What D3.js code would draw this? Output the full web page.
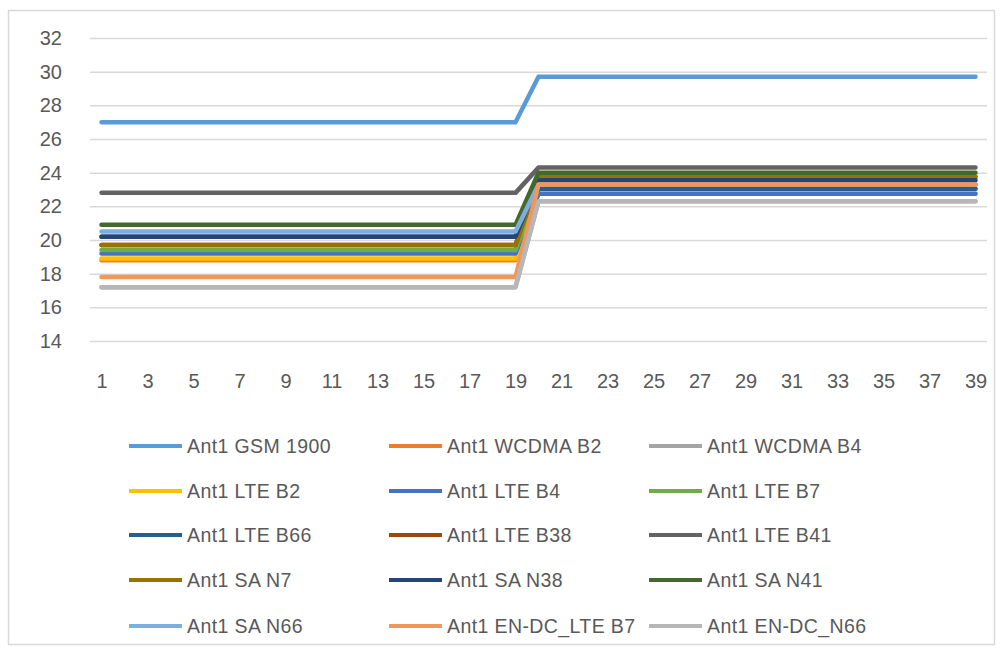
<!DOCTYPE html>
<html>
<head>
<meta charset="utf-8">
<script src="https://cdn.jsdelivr.net/npm/d3@7"></script>
<style>
  html, body { margin: 0; padding: 0; background: #fff; }
  svg { display: block; }
  text { font-family: "Liberation Sans", Arial, sans-serif; fill: #595959; }
</style>
</head>
<body>
<svg id="chart" width="1002" height="653"></svg>
<script>
// ---- data ----
const categories = d3.range(1, 40);               // 1..39
const yTicks = [14, 16, 18, 20, 22, 24, 26, 28, 30, 32];
const xTickLabels = categories.filter(c => c % 2 === 1);

const seriesNames = [
  "Ant1 GSM 1900", "Ant1 WCDMA B2", "Ant1 WCDMA B4",
  "Ant1 LTE B2", "Ant1 LTE B4", "Ant1 LTE B7",
  "Ant1 LTE B66", "Ant1 LTE B38", "Ant1 LTE B41",
  "Ant1 SA N7", "Ant1 SA N38", "Ant1 SA N41",
  "Ant1 SA N66", "Ant1 EN-DC_LTE B7", "Ant1 EN-DC_N66"
];
const seriesColors = [
  "#5B9BD5", "#ED7D31", "#A5A5A5",
  "#FFC000", "#4472C4", "#70AD47",
  "#255E91", "#9E480E", "#636363",
  "#997300", "#264478", "#43682B",
  "#7CAFDD", "#F1975A", "#B7B7B7"
];
// level for points 1..19, level for points 20..39
const levelBefore = [27.0, 18.8, 17.2, 18.9, 19.2, 19.4, 20.2, 19.7, 22.8, 19.7, 20.2, 20.9, 20.5, 17.8, 17.2];
const levelAfter  = [29.7, 23.3, 22.3, 22.75, 22.75, 23.05, 23.05, 23.75, 24.3, 23.75, 23.55, 24.0, 23.3, 23.3, 22.3];
const series = seriesNames.map((name, i) => ({
  name, color: seriesColors[i],
  values: categories.map(c => ({ x: c, y: c <= 19 ? levelBefore[i] : levelAfter[i] }))
}));

// ---- layout ----
const svg = d3.select("#chart");
svg.append("rect").attr("x", 8.5).attr("y", 10.5).attr("width", 986).attr("height", 634)
  .attr("fill", "#fff").attr("stroke", "#d9d9d9").attr("stroke-width", 1.5);

const plotLeft = 90, plotRight = 987, plotTop = 38, plotBottom = 341;
const x = d3.scalePoint().domain(categories).range([plotLeft, plotRight]).padding(0.5);
const y = d3.scaleLinear().domain([14, 32]).range([plotBottom, plotTop]);

// gridlines
const yAxis = d3.axisLeft(y).tickValues(yTicks).tickSize(-(plotRight - plotLeft)).tickPadding(28);
const gy = svg.append("g").attr("transform", `translate(${plotLeft},0)`).call(yAxis);
gy.select(".domain").remove();
gy.selectAll(".tick line").attr("stroke", "#d9d9d9").attr("stroke-width", 1.5);
gy.selectAll(".tick text").attr("font-size", 20).attr("fill", "#595959")
  .style("font-family", "'Liberation Sans', Arial, sans-serif");

// x axis labels
const xAxis = d3.axisBottom(x).tickValues(xTickLabels).tickSize(0).tickPadding(33);
const gx = svg.append("g").attr("transform", `translate(0,${plotBottom})`).call(xAxis);
gx.select(".domain").remove();
gx.selectAll(".tick text").attr("font-size", 20).attr("fill", "#595959")
  .style("font-family", "'Liberation Sans', Arial, sans-serif");

// lines
const line = d3.line().x(d => x(d.x)).y(d => y(d.y));
svg.append("g").selectAll("path").data(series).join("path")
  .attr("d", d => line(d.values))
  .attr("fill", "none")
  .attr("stroke", d => d.color)
  .attr("stroke-width", 4.5)
  .attr("stroke-linejoin", "round")
  .attr("stroke-linecap", "round");

// legend
const legCols = [129, 389, 649];
const legRows = [446, 491, 535, 580, 626];
const leg = svg.append("g").selectAll("g").data(series).join("g")
  .attr("transform", (d, i) => `translate(${legCols[i % 3]},${legRows[Math.floor(i / 3)]})`);
leg.append("line").attr("x1", 0).attr("x2", 53).attr("y1", 0).attr("y2", 0)
  .attr("stroke", d => d.color).attr("stroke-width", 4);
leg.append("text").attr("x", 58).attr("y", 0).attr("dy", "0.35em")
  .attr("font-size", 19.5).attr("letter-spacing", 0.4)
  .text(d => d.name);
</script>
</body>
</html>
